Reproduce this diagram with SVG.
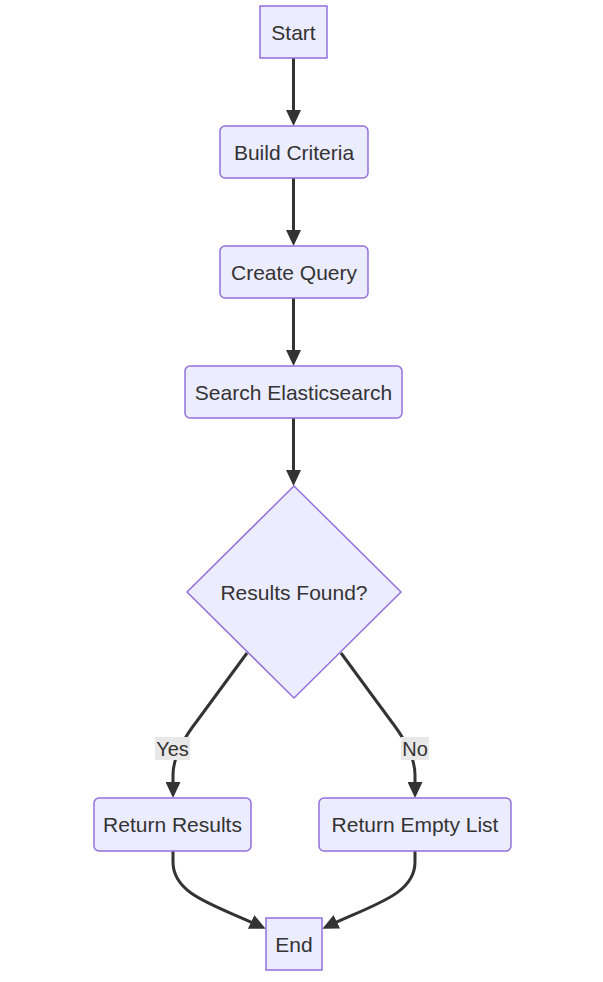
<svg xmlns="http://www.w3.org/2000/svg" width="603" height="982" viewBox="0 0 603 982">
<style>
.node rect, .node polygon { fill: #ECECFF; stroke: #9370DB; stroke-width: 1.5; }
.node text { font-family: "Trebuchet MS", "Liberation Sans", Arial, sans-serif; font-size: 21px; fill: #333333; text-anchor: middle; }
.lbl text { font-family: "Trebuchet MS", "Liberation Sans", Arial, sans-serif; font-size: 20px; fill: #333333; text-anchor: middle; }
.edge { fill: none; stroke: #333333; stroke-width: 3; marker-end: url(#arrow); }
.lbl rect { fill: #e8e8e8; }
</style>
<defs>
<marker id="arrow" markerUnits="userSpaceOnUse" viewBox="0 0 16 15" markerWidth="16" markerHeight="15" refX="12" refY="7.5" orient="auto">
<path d="M0,0 L16,7.5 L0,15 z" fill="#333333"/>
</marker>
</defs>
<rect width="603" height="982" fill="#ffffff"/>
<g id="connectors">
<path class="edge" d="M293.5,58 L293.5,122"/>
<path class="edge" d="M293.5,178 L293.5,242"/>
<path class="edge" d="M293.5,298 L293.5,362"/>
<path class="edge" d="M293.5,418 L293.5,482"/>
<path class="edge" d="M247,653 L197,721 Q173,752 173,775 L173,794"/>
<path class="edge" d="M341,653 L391,721 Q415,752 415,775 L415,794"/>
<path class="edge" d="M173,851 L173,862 C173,895 215,905 262,927"/>
<path class="edge" d="M415,851 L415,862 C415,895 372,905 326,927"/>
</g>
<g id="label-yes" class="lbl">
<rect x="155" y="737" width="35" height="23"/>
<text x="172.5" y="756">Yes</text>
</g>
<g id="label-no" class="lbl">
<rect x="401" y="737" width="28" height="23"/>
<text x="415" y="756">No</text>
</g>
<g id="start" class="node">
<rect x="260" y="6" width="67" height="52"/>
<text x="293.5" y="39.5">Start</text>
</g>
<g id="build-criteria" class="node">
<rect x="220" y="126" width="148" height="52" rx="5"/>
<text x="294" y="159.5">Build Criteria</text>
</g>
<g id="create-query" class="node">
<rect x="220" y="246" width="148" height="52" rx="5"/>
<text x="294" y="279.5">Create Query</text>
</g>
<g id="search" class="node">
<rect x="185" y="366" width="217" height="52" rx="5"/>
<text x="293.5" y="399.5">Search Elasticsearch</text>
</g>
<g id="results-found" class="node">
<polygon points="294,486 401,592 294,698 187,592"/>
<text x="294" y="599.5">Results Found?</text>
</g>
<g id="return-results" class="node">
<rect x="94" y="798" width="157" height="53" rx="5"/>
<text x="172.5" y="832">Return Results</text>
</g>
<g id="return-empty" class="node">
<rect x="319" y="798" width="192" height="53" rx="5"/>
<text x="415" y="832">Return Empty List</text>
</g>
<g id="end" class="node">
<rect x="266" y="918" width="56" height="52"/>
<text x="294" y="951.5">End</text>
</g>
</svg>
